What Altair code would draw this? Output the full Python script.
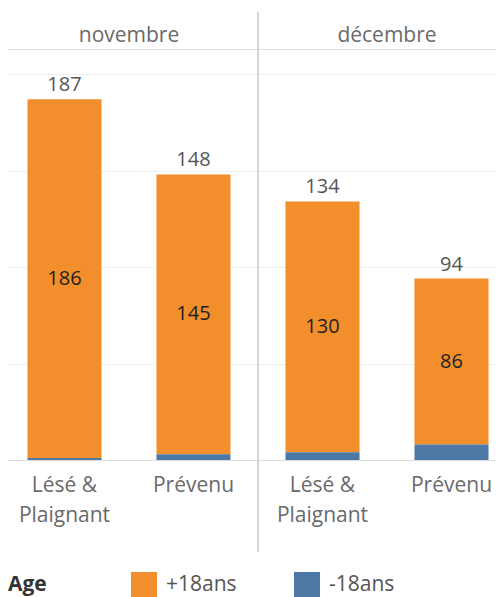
import altair as alt
import pandas as pd

months = ["novembre", "décembre"]
roles = ["Lésé & Plaignant", "Prévenu"]
ages = ["+18ans", "-18ans"]
colors = ["#F28E2B", "#4E79A7"]
# values per (month, role): novembre L&P, novembre Prévenu, décembre L&P, décembre Prévenu
adult = [186, 145, 130, 86]
minor = [1, 3, 4, 8]
grid_values = [50, 100, 150, 200]

rows = []
k = 0
for m in months:
    for r in roles:
        rows.append({"month": m, "role": r, "age": ages[0], "count": adult[k], "ord": 0})
        rows.append({"month": m, "role": r, "age": ages[1], "count": minor[k], "ord": 1})
        k += 1
df = pd.DataFrame(rows)

FONT = "Open Sans"
FS = 21      # headers, category labels, legend
FSN = 20     # numbers

x_enc = alt.X(
    "month:N", sort=months, title=None,
    scale=alt.Scale(paddingInner=0, paddingOuter=0),
    axis=alt.Axis(orient="top", ticks=False, domain=False, labelFontSize=FS,
                  labelColor="#6a6a6a", labelPadding=8, labelBaseline="alphabetic",
                  labelAngle=0, labelFont=FONT),
)
xo_enc = alt.XOffset("role:N", sort=roles,
                     scale=alt.Scale(paddingInner=0.426, paddingOuter=0.213))
y_scale = alt.Scale(domain=[0, 213], nice=False)

base = alt.Chart(df)

bars = base.mark_bar().encode(
    x=x_enc,
    xOffset=xo_enc,
    y=alt.Y("count:Q", stack="zero", scale=y_scale, title=None,
            axis=alt.Axis(labels=False, ticks=False, domain=False, grid=True,
                          gridColor="#efefef", values=grid_values)),
    color=alt.Color("age:N", sort=ages, scale=alt.Scale(domain=ages, range=colors),
                    legend=alt.Legend(orient="none", legendX=8, legendY=523,
                                      direction="horizontal", title="Age",
                                      titleOrient="left", titleFontSize=FS,
                                      titleFontWeight="bold", titleColor="#333333",
                                      titleFont=FONT, titlePadding=84,
                                      symbolType="square", symbolSize=676,
                                      symbolStrokeWidth=0, symbolOpacity=1,
                                      labelFontSize=FS, labelColor="#555555",
                                      labelFont=FONT, labelOffset=9,
                                      columnPadding=57, padding=0)),
    order=alt.Order("ord:Q", sort="descending"),
)

inner = base.transform_stack(
    stack="count", groupby=["month", "role"], as_=["y0", "y1"],
    sort=[alt.SortField("ord", order="descending")],
).transform_calculate(
    mid="(datum.y0 + datum.y1) / 2"
).transform_filter(
    alt.datum.age == ages[0]
).mark_text(font=FONT, fontSize=FSN, color="#222222", baseline="middle").encode(
    x=x_enc, xOffset=xo_enc,
    y=alt.Y("mid:Q", scale=y_scale),
    text=alt.Text("count:Q"),
)

totals = base.mark_text(font=FONT, fontSize=FSN, color="#555555",
                        baseline="alphabetic", dy=-8).encode(
    x=x_enc, xOffset=xo_enc,
    y=alt.Y("sum(count):Q", scale=y_scale),
    text=alt.Text("sum(count):Q"),
)

role_labels = base.transform_filter(
    alt.datum.age == ages[0]
).transform_calculate(
    lbl="replace(datum.role, '& ', '&\\n')"
).mark_text(font=FONT, fontSize=FS, color="#6a6a6a", baseline="alphabetic",
            lineBreak="\n", lineHeight=30).encode(
    x=x_enc, xOffset=xo_enc,
    y=alt.value(443),
    text="lbl:N",
)

sep = base.transform_filter(
    alt.datum.month == months[1]
).mark_rule(color="#d6d6d6", strokeWidth=2).encode(
    x=alt.X("month:N", sort=months, bandPosition=0),
    y=alt.value(-37),
    y2=alt.value(503),
)

chart = alt.layer(bars, inner, totals, role_labels, sep).properties(
    width=516, height=411,
    autosize=alt.AutoSizeParams(type="none"),
    padding={"left": -8, "top": 41, "right": -20, "bottom": 137},
).configure_view(
    stroke="#d6d6d6", strokeWidth=1
).configure(font=FONT)

chart.save("out.html", embed_options={"renderer": "svg", "actions": False})
